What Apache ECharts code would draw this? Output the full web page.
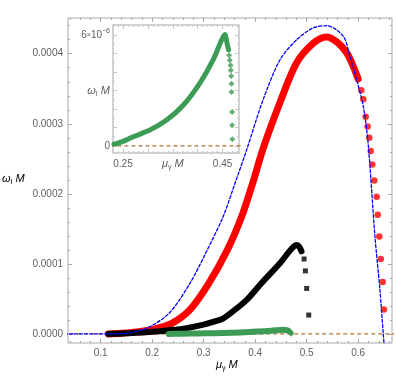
<!DOCTYPE html>
<html><head><meta charset="utf-8">
<script src="https://cdn.jsdelivr.net/npm/echarts@6/dist/echarts.min.js"></script>
<style>html,body{margin:0;padding:0;background:#fff}#c{width:396px;height:376px}</style>
</head><body><div id="c"></div>
<script>
// ---- data ----
const redDense = [[0.115,0],[0.14,0.000001],[0.17,0.000003],[0.202,0.0000065],[0.238,0.000015],[0.273,0.0000343],[0.309,0.000071],[0.346,0.00012],[0.374,0.000168],[0.395,0.000215],[0.416,0.000266],[0.448,0.00033],[0.4806,0.000387],[0.513,0.000415],[0.539,0.000424],[0.56,0.000416],[0.578,0.000401],[0.5905,0.000382],[0.6,0.000364]];
const redSparse = [[0.606,0.000348],[0.610,0.000335],[0.6146,0.00031],[0.6184,0.000296],[0.6216,0.00028],[0.6243,0.000261],[0.6274,0.000242],[0.6313,0.000219],[0.636,0.000196],[0.638,0.00017],[0.641,0.000139],[0.644,0.000107],[0.6476,0.000074],[0.65,0.000035]];
const blackDense = [[0.115,0],[0.15,0.000001],[0.202,0.0000033],[0.267,0.0000081],[0.3317,0.00002],[0.351,0.000029],[0.3835,0.0000486],[0.412,0.0000724],[0.448,0.000101],[0.471,0.000122],[0.4806,0.000127],[0.486,0.000124],[0.49,0.000118]];
const blackSparse = [[0.495,0.000107],[0.4975,0.00009],[0.500,0.000065],[0.504,0.000027]];
const greenDense = [[0.232,0.0000001],[0.25,0.00000025],[0.2707,0.0000005],[0.304,0.00000086],[0.3377,0.0000014],[0.371,0.0000022],[0.4045,0.0000034],[0.431,0.00000465],[0.4476,0.0000057],[0.4546,0.00000602],[0.4594,0.0000055],[0.462,0.0000052]];
const greenSparse = [[0.4632,4.9e-6],[0.4645,4.63e-6],[0.466,4.36e-6],[0.4665,4.09e-6],[0.4672,3.78e-6],[0.468,3.37e-6],[0.468,2.92e-6],[0.4692,1.84e-6],[0.4692,1.12e-6],[0.4696,0.36e-6]];
const blueCurve = [[0.03,0],[0.12,0],[0.14,0.0000005],[0.16,0.000002],[0.1957,0.0000104],[0.2346,0.000031],[0.2734,0.0000724],[0.307,0.00012],[0.338,0.000168],[0.3608,0.000215],[0.3835,0.000263],[0.4157,0.000335],[0.448,0.000391],[0.4806,0.00042],[0.513,0.000437],[0.539,0.00044],[0.571,0.000425],[0.584,0.000396],[0.597,0.000363],[0.61,0.000325],[0.6196,0.00027],[0.6326,0.000139],[0.6423,0.000063],[0.6487,0],[0.651,-0.00002]];
const zeroLine = [[0.0,0],[0.7,0]];

const mainXTicks = [0.1,0.2,0.3,0.4,0.5,0.6];
const mainYTicks = [0,0.0001,0.0002,0.0003,0.0004];
const insetXTicks = [0.25,0.35,0.45];
const insetYTicks = [0,3e-6,6e-6];

// ---- layout / style ----
const MAIN = {xmin:0.0365, xmax:0.6657, ymin:-0.0000129, ymax:0.000451};
const INS = {xmin:0.23, xmax:0.483, ymin:-0.38e-6, ymax:6.54e-6};
function range(a,b,s){const r=[];for(let v=a;v<=b+s*1e-6;v+=s)r.push(+v.toPrecision(10));return r;}
const mainXMinor = range(0.04,0.66,0.02);
const mainYMinor = range(0,0.00044,0.00002);
const insXMajor = range(0.25,0.45,0.05);
const insXMinor = range(0.23,0.48,0.01);
const insYMajor = range(0,6e-6,1e-6);
const insYMinor = range(0,6.5e-6,0.5e-6);

const GRAY='#606060', FRAME='#a8a8a8', IFRAME='#c4c4c4';
const rich = {
  i:{fontStyle:'italic',fontSize:11,color:GRAY,fontFamily:'Liberation Sans',lineHeight:14},
  s:{fontSize:7,color:GRAY,fontFamily:'Liberation Sans',verticalAlign:'bottom',lineHeight:14,padding:[6,0,0,0]},
  n:{fontSize:10,color:GRAY,fontFamily:'Liberation Sans',lineHeight:14},
  x:{fontSize:7,color:GRAY,fontFamily:'Liberation Sans',lineHeight:14},
  p:{fontSize:7,color:GRAY,fontFamily:'Liberation Sans',verticalAlign:'top',lineHeight:14,padding:[0,0,6,0]}
};

function axisSet(dim, grid, R, majors, minors, labelVals, fmt, frameColor, z, margin){
  const mn = dim==='x'?R.xmin:R.ymin, mx = dim==='x'?R.xmax:R.ymax;
  const pos = dim==='x'?['bottom','top']:['left','right'];
  const base = {type:'value', gridIndex:grid, min:mn, max:mx, splitLine:{show:false}, axisLine:{show:false, onZero:false}, z:z, silent:true};
  const out = [];
  out.push(Object.assign({}, base, {position:pos[0],
    axisTick:{show:true, inside:true, length:4, customValues:majors, lineStyle:{color:frameColor}},
    axisLabel:{show:true, customValues:labelVals, formatter:fmt, margin:margin, color:GRAY, fontSize:10, fontFamily:'Liberation Sans', rich:rich}}));
  out.push(Object.assign({}, base, {position:pos[0],
    axisTick:{show:true, inside:true, length:2, customValues:minors, lineStyle:{color:frameColor}}, axisLabel:{show:false}}));
  out.push(Object.assign({}, base, {position:pos[1],
    axisTick:{show:true, inside:true, length:4, customValues:majors, lineStyle:{color:frameColor}}, axisLabel:{show:false}}));
  out.push(Object.assign({}, base, {position:pos[1],
    axisTick:{show:true, inside:true, length:2, customValues:minors, lineStyle:{color:frameColor}}, axisLabel:{show:false}}));
  return out;
}

const xAxes = [].concat(
  axisSet('x',0,MAIN,mainXTicks,mainXMinor,mainXTicks,v=>(+v).toFixed(1),FRAME,1,5),
  axisSet('x',1,INS,insXMajor,insXMinor,insetXTicks,v=>{
     if (Math.abs(v-0.35)<1e-9) return '{i|μ}{s|γ}{i| M}';
     return '{n|'+(+v).toFixed(2)+'}';},IFRAME,6,4)
);
const yAxes = [].concat(
  axisSet('y',0,MAIN,mainYTicks,mainYMinor,mainYTicks,v=>(+v).toFixed(4),FRAME,1,5),
  axisSet('y',1,INS,insYMajor,insYMinor,insetYTicks,v=>{
     if (Math.abs(v)<1e-12) return '{n|0}';
     if (Math.abs(v-3e-6)<1e-12) return '{i|ω}{s|I}{i| M}';
     return '{n|6}{x|×}{n|10}{p|−6}';},IFRAME,6,3)
);

function line(data, color, width, xi, yi, z, dash){
  return {type:'line', data:data, xAxisIndex:xi, yAxisIndex:yi, showSymbol:false, symbol:'none', z:z,
    smooth:0.3, silent:true,
    lineStyle:{color:color, width:width, cap:'round', join:'round', type:dash||'solid'}};
}
function pts(data, color, sym, size, xi, yi, z){
  return {type:'scatter', data:data, xAxisIndex:xi, yAxisIndex:yi, symbol:sym, symbolSize:size, z:z, silent:true,
    itemStyle:{color:color}};
}
const RED='#ff0000', BLACK='#000000', GREEN='#3c9b54', BLUE='#0000ff', BROWN='#b87333';

const option = {
  animation:false,
  backgroundColor:'#fff',
  grid:[
    {left:68, top:18, width:324, height:325, show:true, borderColor:FRAME, borderWidth:1, backgroundColor:'#fff', z:0},
    {left:113, top:25, width:126, height:128, show:true, borderColor:IFRAME, borderWidth:1.5, backgroundColor:'#fff', z:5}
  ],
  xAxis:xAxes,
  yAxis:yAxes,
  series:[
    {type:'line', data:zeroLine, xAxisIndex:0, yAxisIndex:0, showSymbol:false, symbol:'none', z:2, lineStyle:{color:BROWN,width:1.2,type:[4,3]}},
    line(redDense, RED, 7, 0,0, 3),
    pts(redSparse, RED, 'circle', 6.5, 0,0, 3),
    line(blackDense, BLACK, 6, 0,0, 4),
    pts(blackSparse, BLACK, 'rect', 5, 0,0, 4),
    line(greenDense, GREEN, 6, 0,0, 5),
    pts(greenSparse, GREEN, 'diamond', 6, 0,0, 5),
    line(blueCurve, BLUE, 1.3, 0,0, 6, [3,2]),
    // inset
    {type:'line', data:zeroLine, xAxisIndex:4, yAxisIndex:4, showSymbol:false, symbol:'none', z:7, lineStyle:{color:BROWN,width:1.2,type:[4,3]}},
    line(greenDense, GREEN, 5, 4,4, 8),
    pts(greenSparse, GREEN, 'diamond', 6, 4,4, 8)
  ],
  graphic:[
    {type:'text', left:2, top:173, z:10, style:{rich:rich, text:'{i|ω}{s|I}{i| M}'}},
    {type:'text', left:216, top:359, z:10, style:{rich:rich, text:'{i|μ}{s|γ}{i| M}'}}
  ]
};
const chart = echarts.init(document.getElementById('c'), null, {renderer:'canvas'});
chart.setOption(option);
</script></body></html>
